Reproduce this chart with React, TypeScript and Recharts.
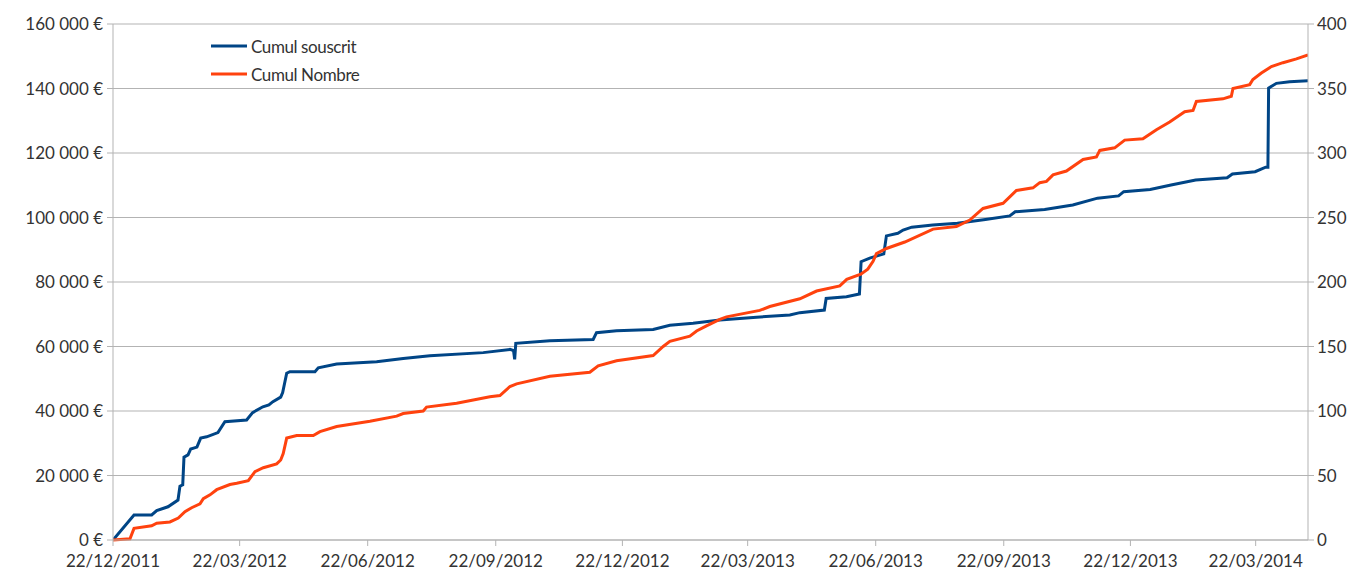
import React from "react";
import {
  LineChart,
  Line,
  XAxis,
  YAxis,
  CartesianGrid,
  Legend,
} from "recharts";

// days counted from 22/12/2011
const tickDays = [0, 91, 183, 275, 366, 456, 548, 640, 731, 821];
const tickLabels = [
  "22/12/2011",
  "22/03/2012",
  "22/06/2012",
  "22/09/2012",
  "22/12/2012",
  "22/03/2013",
  "22/06/2013",
  "22/09/2013",
  "22/12/2013",
  "22/03/2014",
];

const leftTicks = [0, 20000, 40000, 60000, 80000, 100000, 120000, 140000, 160000];
const rightTicks = [0, 50, 100, 150, 200, 250, 300, 350, 400];

const legendOrder = ["Cumul souscrit", "Cumul Nombre"];

// Cumul souscrit (€)
const souscritDays = [
  0, 15.1, 27.8, 31.4, 39.5, 46.7, 48.1, 50.1, 51, 53.9, 55.8, 60.3, 63, 67.3, 75.4,
  80.4, 96, 100.3, 107.7, 112, 114.9, 120.5, 121.9, 124.8, 127.1, 145.1, 147.5,
  160.7, 189.4, 208.5, 227.7, 266, 285.2, 287.8, 288.6, 289.4, 313.9, 345, 347.4,
  361.8, 388.1, 400.1, 416.8, 436, 462.4, 486.3, 493.5, 511.1, 512.4, 527, 536.3,
  537.5, 543.7, 553.8, 555.7, 563.9, 567.7, 573.9, 589, 606.7, 626.8, 644.3, 648.2,
  669.4, 689.6, 707.4, 722.5, 726.2, 745.2, 760.2, 777.9, 800.5, 804.3, 820.6,
  828.2, 829.8, 830.3, 835.9, 845.4, 858.6,
];
const souscritValues = [
  0, 7750, 7750, 9100, 10300, 12400, 16700, 17100, 25700, 26400, 28200, 28800,
  31600, 32000, 33300, 36700, 37200, 39500, 41300, 41900, 42900, 44300, 45700,
  51700, 52200, 52200, 53400, 54600, 55300, 56300, 57100, 58100, 59100, 58700,
  56000, 61000, 61800, 62200, 64300, 64900, 65300, 66600, 67200, 68200, 69100,
  69800, 70500, 71300, 74900, 75400, 76300, 86300, 87400, 88700, 94300, 95100,
  96100, 97000, 97700, 98200, 99400, 100500, 101800, 102500, 103900, 106000,
  106700, 108000, 108700, 110100, 111600, 112300, 113500, 114200, 115600, 115600,
  140100, 141600, 142100, 142400,
];

// Cumul Nombre
const nombreDays = [
  0, 12.2, 15.1, 27.8, 31.4, 40.9, 46.9, 51.7, 56.5, 62.5, 64.9, 69.7, 74.5, 84,
  88.9, 97.2, 102, 108, 117.6, 120.5, 122.3, 124.8, 132, 143.9, 148.7, 160.7,
  184.6, 203.8, 208.5, 222.9, 225.3, 246.9, 270.8, 278, 285.2, 290, 313.9, 342.6,
  348.6, 361.8, 388.1, 395.3, 400.1, 414.5, 419.3, 426.4, 436, 440.8, 464.7, 471.9,
  493.5, 505.5, 522.2, 527.2, 537.3, 542.3, 546.1, 548.5, 555.7, 568.9, 589.2, 606,
  615.6, 625.1, 639.5, 649.1, 661, 665.9, 670.7, 675.4, 685, 697, 706.6, 709, 719.7,
  726.9, 740, 749.7, 759.2, 770, 776, 778.4, 797.5, 803.5, 804.7, 816.7, 819,
  825.1, 832.3, 840.6, 850.3, 858.6,
];
const nombreValues = [
  0, 1, 9, 11, 13, 14, 17, 22, 25, 28, 32, 35, 39, 43, 44, 46, 53, 56, 59, 62, 67,
  79, 81, 81, 84, 88, 92, 96, 98, 100, 103, 106, 111, 112, 119, 121, 127, 130, 135,
  139, 143, 150, 154, 158, 162, 166, 171, 173, 178, 181, 187, 193, 197, 202, 206,
  210, 216, 222, 226, 231, 241, 243, 248, 257, 261, 271, 273, 277, 278, 283, 286,
  295, 297, 302, 304, 310, 311, 318, 324, 332, 333, 340, 342, 344, 350, 353, 357,
  362, 367, 370, 373, 376,
];

const souscritData = souscritDays.map((d, i) => ({ day: d, souscrit: souscritValues[i] }));
const nombreData = nombreDays.map((d, i) => ({ day: d, nombre: nombreValues[i] }));

const BLUE = "#004586";
const ORANGE = "#ff420e";
const GRID = "#b3b3b3";
const FONT = "Lato, 'DejaVu Sans', sans-serif";

const formatEuro = (v: number) =>
  v.toString().replace(/\B(?=(\d{3})+(?!\d))/g, " ") + " €";

const formatDay = (d: number) => {
  const i = tickDays.indexOf(d);
  return i >= 0 ? tickLabels[i] : "";
};

const renderLegend = (props: any) => {
  const items = [...(props.payload || [])].sort(
    (a: any, b: any) => legendOrder.indexOf(a.value) - legendOrder.indexOf(b.value)
  );
  return (
    <div style={{ fontFamily: FONT, fontSize: 17, color: "#333", letterSpacing: -0.4 }}>
      {items.map((entry: any) => (
        <div key={entry.value} style={{ display: "flex", alignItems: "center", height: 28 }}>
          <svg width={38} height={6} style={{ marginRight: 2 }}>
            <line x1={0} y1={3} x2={36} y2={3} stroke={entry.color} strokeWidth={3} />
          </svg>
          <span>{entry.value}</span>
        </div>
      ))}
    </div>
  );
};

const App: React.FC = () => {
  const tickStyle = { fill: "#333", fontSize: 17, fontFamily: FONT };
  return (
    <div style={{ position: "absolute", left: 0, top: 0, background: "#fff" }}>
      <LineChart width={1350} height={571} margin={{ top: 24, right: 0, bottom: 0, left: 0 }}>
        <CartesianGrid yAxisId="left" vertical={false} stroke={GRID} />
        <XAxis
          dataKey="day"
          type="number"
          domain={[0, 858.6]}
          ticks={tickDays}
          tickFormatter={formatDay}
          height={31}
          stroke={GRID}
          tick={tickStyle}
          tickSize={6}
          tickMargin={9}
          allowDataOverflow
        />
        <YAxis
          yAxisId="left"
          orientation="left"
          domain={[0, 160000]}
          ticks={leftTicks}
          tickFormatter={formatEuro}
          width={113}
          stroke={GRID}
          tick={tickStyle}
          tickSize={6}
          tickMargin={4}
        />
        <YAxis
          yAxisId="right"
          orientation="right"
          domain={[0, 400]}
          ticks={rightTicks}
          width={42}
          stroke={GRID}
          tick={tickStyle}
          tickSize={6}
          tickMargin={3}
        />
        <Legend
          content={renderLegend}
          layout="vertical"
          align="center"
          verticalAlign="middle"
          wrapperStyle={{ left: 211, top: 32, width: 200 }}
        />
        <Line
          yAxisId="left"
          data={souscritData}
          dataKey="souscrit"
          name="Cumul souscrit"
          type="linear"
          stroke={BLUE}
          strokeWidth={3}
          dot={false}
          isAnimationActive={false}
        />
        <Line
          yAxisId="right"
          data={nombreData}
          dataKey="nombre"
          name="Cumul Nombre"
          type="linear"
          stroke={ORANGE}
          strokeWidth={3}
          dot={false}
          isAnimationActive={false}
        />
      </LineChart>
    </div>
  );
};

export default App;
